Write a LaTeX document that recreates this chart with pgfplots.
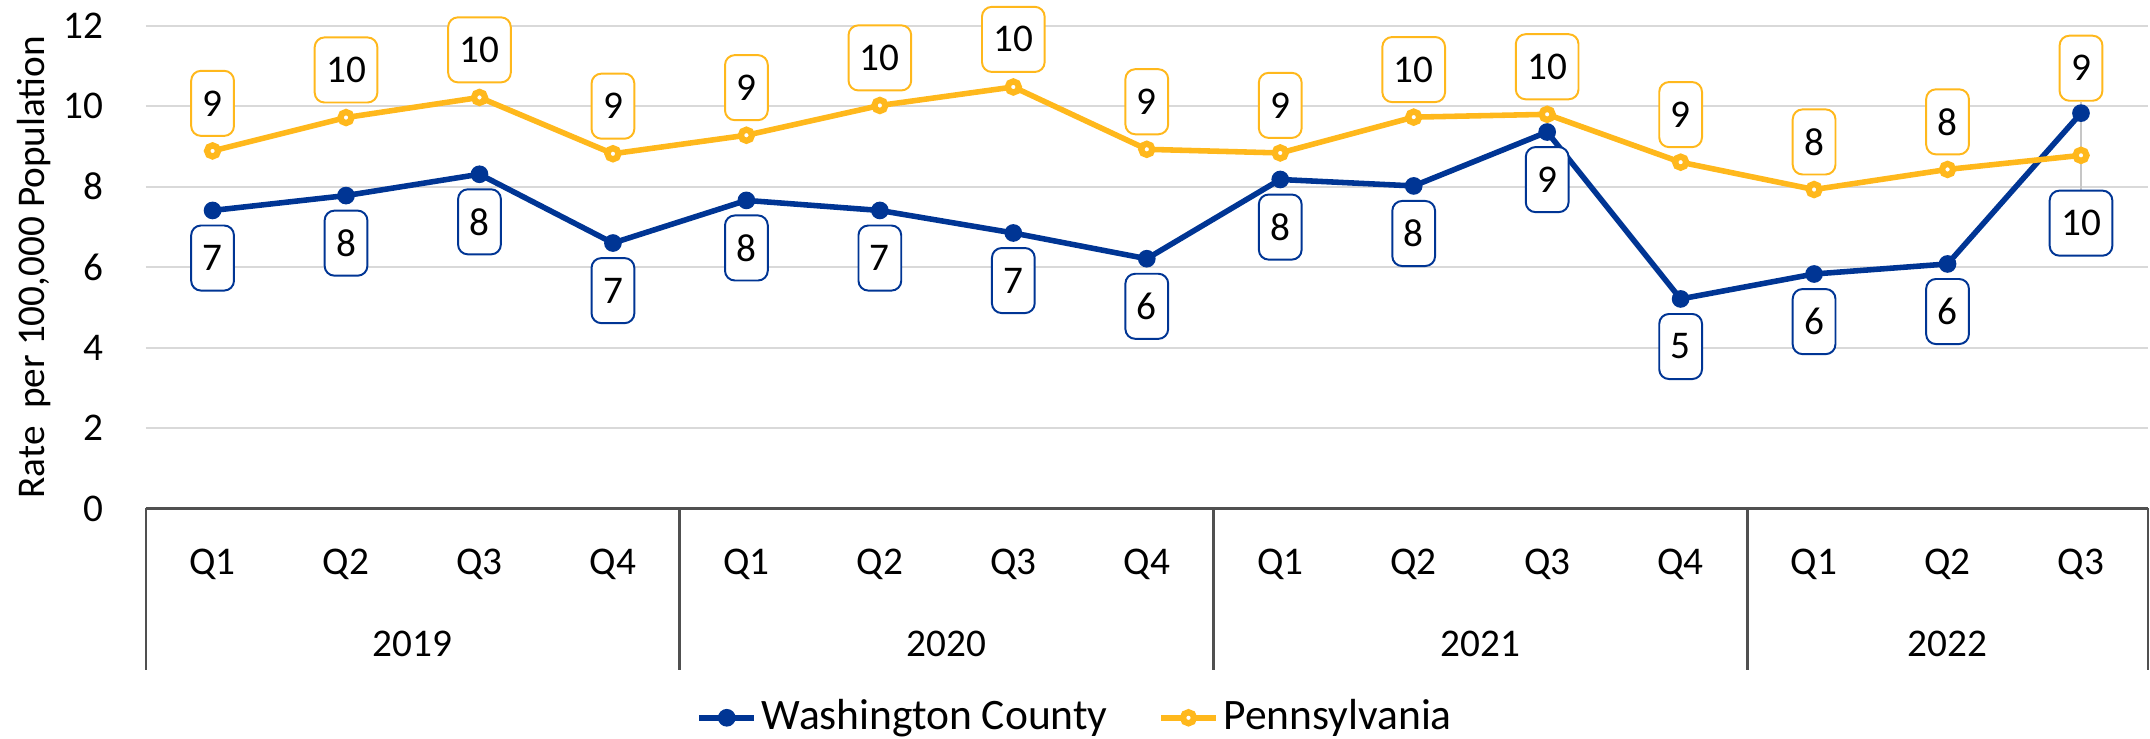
\documentclass[border=0pt]{standalone}
\usepackage{fontspec}
\setmainfont{Carlito}
\usepackage{pgfplots}
\usepackage{pgfplotstable}
\pgfplotsset{compat=1.18}

\definecolor{waBlue}{RGB}{0,53,148}
\definecolor{paGold}{RGB}{255,184,28}
\definecolor{gridGray}{RGB}{217,217,217}
\definecolor{axGray}{RGB}{80,80,80}

% x = quarter index (2019 Q1 = 0), wdy/pdy = label offsets in pt
\pgfplotstableread{
x  wa    pa     wdy    pdy
0  7.41  8.89   -4.3   4.3
1  7.78  9.72   -4.3   4.3
2  8.31  10.22  -4.3   4.3
3  6.60  8.82   -4.3   4.3
4  7.66  9.28   -4.3   4.3
5  7.41  10.02  -4.3   4.3
6  6.85  10.48  -4.3   4.3
7  6.21  8.93   -4.3   4.3
8  8.18  8.84   -4.3   4.3
9  8.02  9.73   -4.3   4.3
10 9.36  9.80   -4.3   4.3
11 5.21  8.61   -4.3   4.3
12 5.83  7.93   -4.3   4.3
13 6.08  8.43   -4.3   4.3
14 9.83  8.78   -23.4  16.4
}\ratedata

\pgfkeys{/pgf/number format/assume math mode=true}

\begin{document}
\fontsize{12}{14}\selectfont
\begin{tikzpicture}
\begin{axis}[
    scale only axis,
    width=612.2pt, height=147.6pt,
    xmin=-0.5, xmax=14.5,
    ymin=0, ymax=12,
    ytick={0,2,...,12},
    xtick={0,...,14},
    xticklabels={Q1,Q2,Q3,Q4,Q1,Q2,Q3,Q4,Q1,Q2,Q3,Q4,Q1,Q2,Q3},
    xticklabel style={anchor=base, yshift=-20.3pt},
    yticklabel style={xshift=-8.7pt},
    major tick length=0pt,
    axis x line*=bottom, axis y line*=left,
    x axis line style={draw=axGray, line width=0.75pt, -},
    y axis line style={draw=none},
    ymajorgrids,
    grid style={draw=gridGray, line width=0.6pt},
    ylabel={Rate\ \ per 100,000 Population},
    every axis y label/.style={at={([xshift=-31pt]axis description cs:0,0.5)}, rotate=90, anchor=base},
    clip=false,
    legend columns=2,
    legend style={draw=none, fill=none, at={([yshift=-64pt]axis description cs:0.465,0)}, anchor=center,
        font=\fontsize{13.3}{15}\selectfont,
        /tikz/every even column/.append style={column sep=14pt},
        nodes={inner sep=1.5pt}},
    legend image code/.code={\draw[mark repeat=2, mark phase=2] plot coordinates {(0pt,0pt) (8.35pt,0pt) (16.7pt,0pt)};},
    nodes near coords={\pgfmathprintnumber[fixed,precision=0]{\pgfplotspointmeta}},
    every node near coord/.append style={fill=white, text=black, rounded corners=3pt, line width=0.6pt,
        minimum width=12.8pt, minimum height=19.9pt, inner xsep=3.5pt, inner ysep=0pt},
]
\draw[gray!45, line width=0.6pt] (axis cs:14,10.11) -- (axis cs:14,7.93);

\addplot[waBlue, line width=1.7pt, mark=*, mark size=2.3pt,
    mark options={line width=0.8pt},
    visualization depends on={\thisrow{wdy} \as \dy},
    every node near coord/.append style={draw=waBlue, anchor=north, yshift=\dy pt}]
    table[x=x, y=wa] {\ratedata};
\addlegendentry{Washington County}

\addplot[paGold, line width=1.7pt, mark=*, mark size=1.7pt,
    mark options={fill=white, line width=1.9pt},
    visualization depends on={\thisrow{pdy} \as \dy},
    every node near coord/.append style={draw=paGold, anchor=south, yshift=\dy pt}]
    table[x=x, y=pa] {\ratedata};
\addlegendentry{Pennsylvania}

\pgfplotsinvokeforeach{-0.5,3.5,7.5,11.5,14.5}{
    \draw[axGray, line width=0.75pt] (axis cs:#1,0) -- ++(0pt,-49.4pt);
}
\node[anchor=base] at ([yshift=-45.3pt]axis cs:1.5,0) {2019};
\node[anchor=base] at ([yshift=-45.3pt]axis cs:5.5,0) {2020};
\node[anchor=base] at ([yshift=-45.3pt]axis cs:9.5,0) {2021};
\node[anchor=base] at ([yshift=-45.3pt]axis cs:13,0) {2022};

\coordinate (bl) at (rel axis cs:0,0);
\coordinate (tr) at (rel axis cs:1,1);
\end{axis}
\pgfresetboundingbox
\path[use as bounding box] ([xshift=-44.6pt,yshift=-70.2pt]bl) rectangle ([xshift=0.7pt,yshift=7.9pt]tr);
\end{tikzpicture}
\end{document}
